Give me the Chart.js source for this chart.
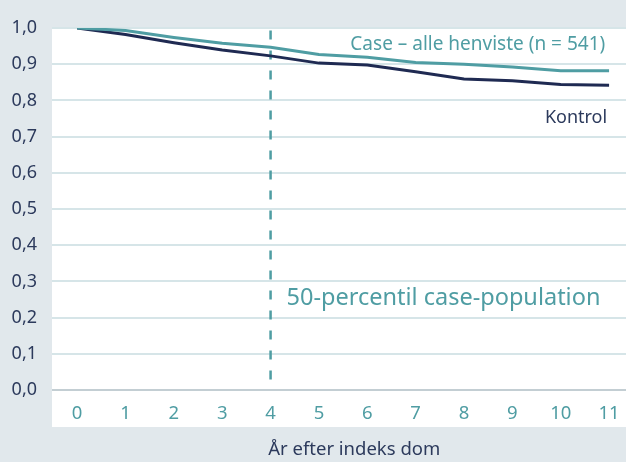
<!DOCTYPE html>
<html>
<head>
<meta charset="utf-8">
<script src="https://cdn.jsdelivr.net/npm/chart.js@4"></script>
<style>
  html, body { margin: 0; padding: 0; background: #e1e8ec; }
  #wrap { width: 626px; height: 462px; }
</style>
</head>
<body>
<div id="wrap"><canvas id="chart" width="626" height="462"></canvas></div>
<script>
// years after index judgement
const years = [0, 1, 2, 3, 4, 5, 6, 7, 8, 9, 10, 11];
const caseValues = [1.0, 0.993, 0.974, 0.958, 0.947, 0.927, 0.919, 0.905, 0.900, 0.892, 0.882, 0.882];
const kontrolValues = [1.0, 0.982, 0.959, 0.939, 0.923, 0.903, 0.898, 0.879, 0.859, 0.854, 0.844, 0.842];
const medianYear = 4;
const medianLineY = [0.993, 0.022];
const yTicks = [0, 0.1, 0.2, 0.3, 0.4, 0.5, 0.6, 0.7, 0.8, 0.9, 1.0];

const teal = '#4f9da3';
const navy = '#1f2a52';
const labelNavy = '#2c3a5c';
const fontFamily = '"Noto Sans", "Open Sans", sans-serif';

const toPoints = (xs, ys) => xs.map((x, i) => ({ x: x, y: ys[i] }));

// white plot panel, extends under the x tick labels
const panelPlugin = {
  id: 'panel',
  beforeDraw(chart) {
    const a = chart.chartArea;
    const ctx = chart.ctx;
    ctx.save();
    ctx.fillStyle = '#ffffff';
    ctx.fillRect(a.left, a.top, a.right - a.left, a.bottom + 37 - a.top);
    ctx.restore();
  }
};

// text labels placed through the scales
const labelPlugin = {
  id: 'labels',
  afterDatasetsDraw(chart) {
    const x = chart.scales.x, y = chart.scales.y;
    const ctx = chart.ctx;
    ctx.save();
    ctx.textBaseline = 'middle';
    ctx.font = '19px ' + fontFamily;
    ctx.fillStyle = teal;
    ctx.textAlign = 'right';
    ctx.fillText('Case \u2013 alle henviste (n = 541)', x.getPixelForValue(10.92), y.getPixelForValue(0.953));
    ctx.font = '18px ' + fontFamily;
    ctx.fillStyle = labelNavy;
    ctx.fillText('Kontrol', x.getPixelForValue(10.96), y.getPixelForValue(0.753));
    ctx.font = '23.5px ' + fontFamily;
    ctx.fillStyle = teal;
    ctx.textAlign = 'left';
    ctx.fillText('50-percentil case-population', x.getPixelForValue(4.33), y.getPixelForValue(0.253));
    // axis title
    ctx.font = '18.5px ' + fontFamily;
    ctx.fillStyle = labelNavy;
    ctx.textAlign = 'center';
    ctx.fillText('År efter indeks dom', x.getPixelForValue(5.73), 450);
    ctx.restore();
  }
};

new Chart(document.getElementById('chart'), {
  type: 'line',
  data: {
    datasets: [
      {
        label: 'Case \u2013 alle henviste (n = 541)',
        data: toPoints(years, caseValues),
        borderColor: teal,
        borderWidth: 3,
        pointRadius: 0,
        tension: 0
      },
      {
        label: 'Kontrol',
        data: toPoints(years, kontrolValues),
        borderColor: navy,
        borderWidth: 3,
        pointRadius: 0,
        tension: 0
      },
      {
        label: 'median',
        data: medianLineY.map(v => ({ x: medianYear, y: v })),
        borderColor: teal,
        borderWidth: 2.5,
        borderDash: [9, 11],
        pointRadius: 0
      }
    ]
  },
  options: {
    responsive: false,
    animation: false,
    layout: { padding: { top: 28, right: 0, left: 0, bottom: 0 } },
    plugins: {
      legend: { display: false },
      tooltip: { enabled: false }
    },
    scales: {
      x: {
        type: 'linear',
        min: -0.52,
        max: 11.35,
        afterBuildTicks(scale) {
          scale.ticks = years.map(v => ({ value: v }));
        },
        afterFit(scale) { scale.height = 72; },
        grid: { display: false },
        border: { display: false },
        ticks: {
          color: teal,
          font: { family: fontFamily, size: 18.5 },
          padding: 5,
          autoSkip: false,
          maxRotation: 0
        }
      },
      y: {
        min: 0,
        max: 1,
        afterBuildTicks(scale) {
          scale.ticks = yTicks.map(v => ({ value: v }));
        },
        afterFit(scale) { scale.width = 52; },
        grid: {
          color: ctx => ctx.tick && ctx.tick.value === 0 ? '#c3ced3' : '#d6e5e8',
          lineWidth: 2,
          drawTicks: false
        },
        border: { display: false },
        ticks: {
          color: labelNavy,
          font: { family: fontFamily, size: 18 },
          padding: 15,
          callback: v => v.toFixed(1).replace('.', ',')
        }
      }
    }
  },
  plugins: [panelPlugin, labelPlugin]
});
</script>
</body>
</html>
